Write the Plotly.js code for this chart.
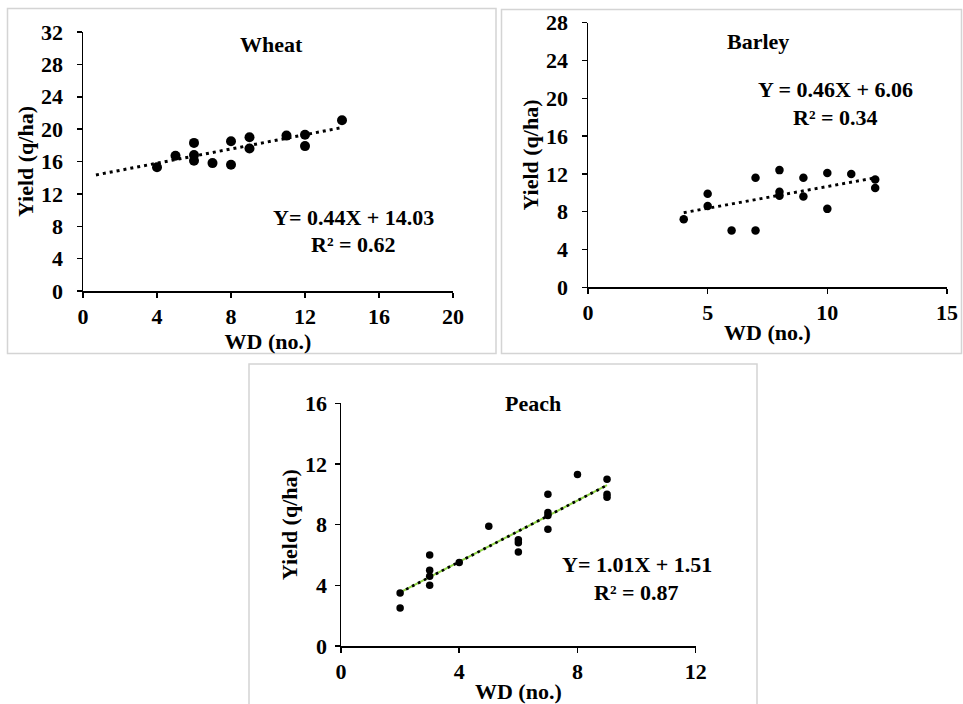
<!DOCTYPE html>
<html>
<head>
<meta charset="utf-8">
<script src="https://cdn.plot.ly/plotly-3.0.1.min.js"></script>
<style>html,body{margin:0;padding:0;background:#fff;}#chart{width:963px;height:704px;}</style>
</head>
<body>
<div id="chart"></div>
<script>
// ---- Wheat ----
const wheatWD    = [4, 5, 6, 6, 6, 7, 8, 8, 9, 9, 11, 12, 12, 14];
const wheatYield = [15.3, 16.7, 18.3, 16.8, 16.1, 15.8, 18.5, 15.6, 19.0, 17.6, 19.2, 19.3, 17.9, 21.1];
const wheatSlope = 0.44, wheatIntercept = 14.03;
const wheatTrendX = [0.7, 14];
const wheatEq = "Y= 0.44X + 14.03", wheatR2 = "R² = 0.62";

// ---- Barley ----
const barleyWD    = [4, 5, 5, 6, 7, 7, 8, 8, 8, 9, 9, 10, 10, 11, 12, 12];
const barleyYield = [7.2, 9.9, 8.6, 6.0, 11.6, 6.0, 12.4, 10.1, 9.7, 11.6, 9.6, 12.1, 8.3, 12.0, 11.4, 10.5];
const barleySlope = 0.46, barleyIntercept = 6.06;
const barleyTrendX = [4, 12];
const barleyEq = "Y = 0.46X + 6.06", barleyR2 = "R² = 0.34";

// ---- Peach ----
const peachWD    = [2, 2, 3, 3, 3, 3, 4, 5, 6, 6, 6, 7, 7, 7, 7, 8, 9, 9, 9];
const peachYield = [3.5, 2.5, 6.0, 5.0, 4.6, 4.0, 5.5, 7.9, 7.0, 6.8, 6.2, 10.0, 8.8, 8.6, 7.7, 11.3, 11.0, 10.0, 9.8];
const peachSlope = 1.01, peachIntercept = 1.51;
const peachTrendX = [2, 9];
const peachEq = "Y= 1.01X + 1.51", peachR2 = "R² = 0.87";

const FONT = "Liberation Serif, Times New Roman, serif";
const trendY = (xs, m, b) => xs.map(x => m * x + b);

const W = 963, H = 704;
const px = v => v / W;           // pixel x -> paper
const py = v => 1 - v / H;       // pixel y -> paper

function axisX(domain, range, dtick, standoff) {
  return {
    domain: domain, range: range, dtick: dtick, tick0: 0,
    showgrid: false, zeroline: false, showline: true,
    linecolor: '#000', linewidth: 1.5, ticks: 'outside', ticklen: 5, tickwidth: 1.5, tickcolor: '#000',
    ticklabelstandoff: 0,
    tickfont: {family: FONT, size: 22, color: '#000', weight: 'bold'},
    title: {text: 'WD (no.)', standoff: standoff, font: {family: FONT, size: 22, color: '#000', weight: 'bold'}},
    fixedrange: true
  };
}
function axisY(domain, range, dtick, lblStand, standoff) {
  return {
    domain: domain, range: range, dtick: dtick, tick0: 0,
    showgrid: false, zeroline: false, showline: true,
    linecolor: '#000', linewidth: 1.5, ticks: 'outside', ticklen: 5, tickwidth: 1.5, tickcolor: '#000',
    ticklabelstandoff: lblStand,
    tickfont: {family: FONT, size: 22, color: '#000', weight: 'bold'},
    title: {text: 'Yield (q/ha)', standoff: standoff, font: {family: FONT, size: 22, color: '#000', weight: 'bold'}},
    fixedrange: true
  };
}

const dotLine = {color: '#000', width: 3, dash: '3px,4px'};

const data = [
  {x: wheatTrendX, y: trendY(wheatTrendX, wheatSlope, wheatIntercept), xaxis: 'x', yaxis: 'y', mode: 'lines', line: dotLine, hoverinfo: 'skip', showlegend: false},
  {x: wheatWD, y: wheatYield, xaxis: 'x', yaxis: 'y', mode: 'markers', marker: {color: '#000', size: 10}, showlegend: false},

  {x: barleyTrendX, y: trendY(barleyTrendX, barleySlope, barleyIntercept), xaxis: 'x2', yaxis: 'y2', mode: 'lines', line: dotLine, hoverinfo: 'skip', showlegend: false},
  {x: barleyWD, y: barleyYield, xaxis: 'x2', yaxis: 'y2', mode: 'markers', marker: {color: '#000', size: 8.5}, showlegend: false},

  {x: peachTrendX, y: trendY(peachTrendX, peachSlope, peachIntercept), xaxis: 'x3', yaxis: 'y3', mode: 'lines', line: {color: '#8fd444', width: 2}, hoverinfo: 'skip', showlegend: false},
  {x: peachTrendX, y: trendY(peachTrendX, peachSlope, peachIntercept), xaxis: 'x3', yaxis: 'y3', mode: 'lines', line: {color: '#000', width: 2.7, dash: '2.7px,4px'}, hoverinfo: 'skip', showlegend: false},
  {x: peachWD, y: peachYield, xaxis: 'x3', yaxis: 'y3', mode: 'markers', marker: {color: '#000', size: 7.5}, showlegend: false}
];

function ann(text, xref, yref, x, y, size) {
  return {text: text, xref: xref, yref: yref, x: x, y: y, showarrow: false, xanchor: 'center', yanchor: 'middle',
          font: {family: FONT, size: size, color: '#000', weight: 'bold'}};
}

const layout = {
  width: W, height: H,
  margin: {l: 0, r: 0, t: 0, b: 0},
  paper_bgcolor: '#fff', plot_bgcolor: 'rgba(0,0,0,0)',
  showlegend: false,
  xaxis:  axisX([px(83), px(453)], [0, 20], 4, 0),
  yaxis:  axisY([py(291), py(32)], [0, 32], 4, 9, 1),
  xaxis2: Object.assign(axisX([px(588), px(947)], [0, 15], 5, 0), {anchor: 'y2'}),
  yaxis2: Object.assign(axisY([py(287.3), py(22.7)], [0, 28], 4, 9, 1), {anchor: 'x2'}),
  xaxis3: Object.assign(axisX([px(341), px(695.7)], [0, 12], 4, 17), {anchor: 'y3'}),
  yaxis3: Object.assign(axisY([py(646), py(403.3)], [0, 16], 4, 3, 1), {anchor: 'x3'}),
  annotations: [
    ann('Wheat', 'x', 'y', 10.2, 30.4, 22),
    ann(wheatEq, 'x', 'y', 14.6, 9.1, 22),
    ann(wheatR2, 'x', 'y', 14.6, 5.8, 22),
    ann('Barley', 'x2', 'y2', 7.1, 26.0, 22),
    ann(barleyEq, 'x2', 'y2', 10.35, 20.9, 22),
    ann(barleyR2, 'x2', 'y2', 10.35, 18.0, 22),
    ann('Peach', 'x3', 'y3', 6.5, 16.0, 22),
    ann(peachEq, 'x3', 'y3', 10.0, 5.35, 22),
    ann(peachR2, 'x3', 'y3', 10.0, 3.55, 22)
  ],
  shapes: [
    {type: 'rect', xref: 'paper', yref: 'paper', x0: px(7.5), x1: px(496), y0: py(353.5), y1: py(8.5), line: {color: '#d4d4d4', width: 1.5}},
    {type: 'rect', xref: 'paper', yref: 'paper', x0: px(501.5), x1: px(961.5), y0: py(353.5), y1: py(9.5), line: {color: '#d4d4d4', width: 1.5}},
    {type: 'rect', xref: 'paper', yref: 'paper', x0: px(249), x1: px(757), y0: py(712), y1: py(364), line: {color: '#d4d4d4', width: 1.5}}
  ]
};

Plotly.newPlot('chart', data, layout, {staticPlot: true, displayModeBar: false});
</script>
</body>
</html>
